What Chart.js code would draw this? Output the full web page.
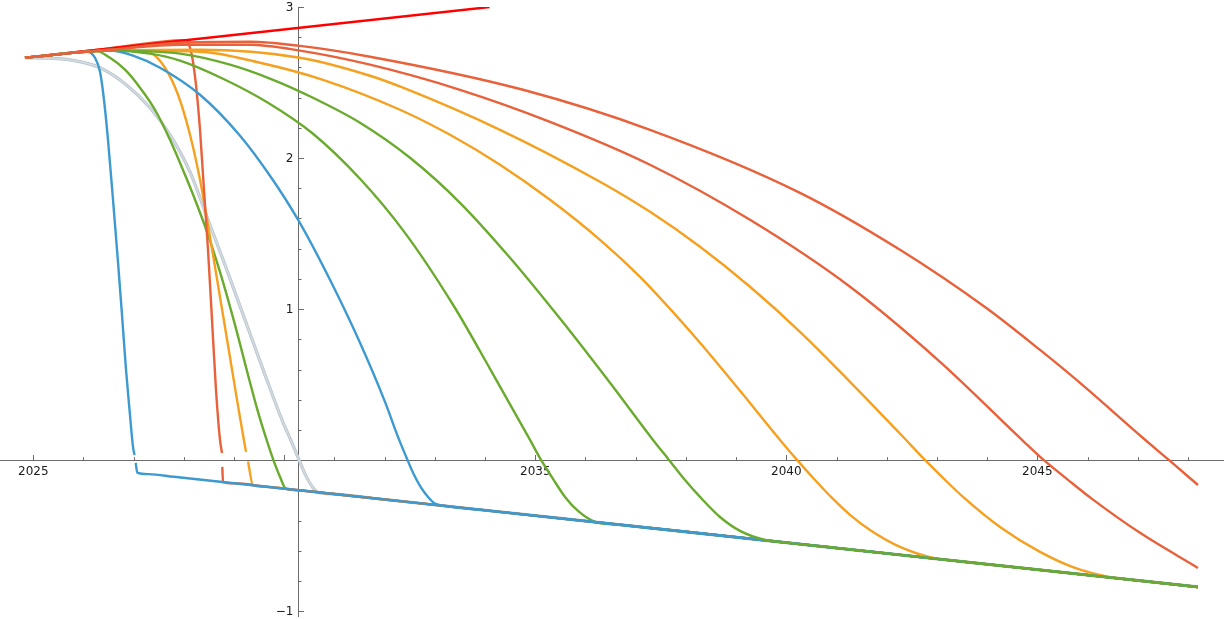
<!DOCTYPE html>
<html><head><meta charset="utf-8">
<script src="https://cdn.jsdelivr.net/npm/chart.js@4.4.1/dist/chart.umd.min.js"></script>
<style>html,body{margin:0;padding:0;background:#fff;}#wrap{width:1224px;height:619px;}</style>
</head><body><div id="wrap"><canvas id="c" width="1224" height="619"></canvas></div>
<script>
// ---- data (year, value) ----
const redLineYears = [2024.834, 2034.09];
const redLineValues = [2.664, 3.0];

const grayYears = [2024.834, 2025.333, 2025.831, 2026.329, 2026.827, 2027.325, 2027.723, 2028.122, 2028.480, 2028.819, 2029.217, 2029.616, 2029.954, 2030.153, 2030.293, 2030.432, 2030.572, 2030.671, 2031.0, 2032.0, 2038.0, 2043.0, 2048.201];
const grayValues = [2.664, 2.661, 2.644, 2.598, 2.492, 2.333, 2.154, 1.909, 1.591, 1.293, 0.929, 0.565, 0.267, 0.114, 0.002, -0.104, -0.183, -0.213, -0.224, -0.260, -0.474, -0.653, -0.839];

const blueSteepYears = [2024.834, 2025.333, 2025.831, 2026.070, 2026.229, 2026.329, 2026.408, 2026.488, 2026.588, 2026.687, 2026.767, 2026.847, 2026.926, 2026.986, 2027.016, 2027.028, 2027.040, 2027.072, 2027.3, 2027.8, 2029.0, 2033.0, 2038.0, 2043.0, 2048.201];
const blueSteepValues = [2.664, 2.681, 2.698, 2.704, 2.664, 2.571, 2.386, 2.121, 1.724, 1.313, 0.962, 0.598, 0.300, 0.088, 0.035, null, -0.018, -0.082, -0.092, -0.110, -0.153, -0.296, -0.474, -0.653, -0.839];

const redSteepYears = [2024.834, 2026.329, 2028.042, 2028.122, 2028.181, 2028.241, 2028.321, 2028.400, 2028.480, 2028.560, 2028.639, 2028.719, 2028.759, 2028.762, 2028.765, 2028.779, 2029.0, 2029.6, 2033.0, 2038.0, 2043.0, 2048.201];
const redSteepValues = [2.664, 2.719, 2.781, 2.730, 2.638, 2.485, 2.187, 1.790, 1.393, 0.929, 0.466, 0.134, 0.048, null, -0.044, -0.145, -0.153, -0.174, -0.296, -0.474, -0.653, -0.839];

const orangeSteepYears = [2024.834, 2025.333, 2025.831, 2026.329, 2026.827, 2027.325, 2027.624, 2027.883, 2028.122, 2028.321, 2028.480, 2028.679, 2028.878, 2029.058, 2029.177, 2029.237, 2029.257, 2029.277, 2029.377, 2029.6, 2030.3, 2033.0, 2038.0, 2043.0, 2048.201];
const orangeSteepValues = [2.664, 2.681, 2.698, 2.711, 2.717, 2.698, 2.598, 2.419, 2.154, 1.856, 1.558, 1.161, 0.763, 0.399, 0.168, 0.055, null, -0.009, -0.167, -0.175, -0.200, -0.296, -0.474, -0.653, -0.839];

const greenSteepYears = [2024.834, 2025.333, 2025.831, 2026.229, 2026.528, 2026.827, 2027.126, 2027.424, 2027.723, 2028.022, 2028.261, 2028.460, 2028.719, 2029.018, 2029.277, 2029.476, 2029.635, 2029.775, 2029.914, 2030.034, 2030.3, 2031.0, 2033.0, 2038.0, 2043.0, 2048.201];
const greenSteepValues = [2.664, 2.681, 2.698, 2.711, 2.664, 2.585, 2.466, 2.320, 2.121, 1.889, 1.691, 1.512, 1.247, 0.896, 0.565, 0.320, 0.148, 0.009, -0.110, -0.190, -0.200, -0.224, -0.296, -0.474, -0.653, -0.839];

const blueMidYears = [2024.834, 2025.333, 2025.831, 2026.528, 2026.986, 2027.524, 2028.321, 2029.118, 2029.715, 2030.273, 2030.910, 2031.508, 2032.006, 2032.265, 2032.444, 2032.584, 2032.703, 2032.843, 2032.982, 2033.3, 2034.0, 2038.0, 2043.0, 2048.201];
const blueMidValues = [2.664, 2.681, 2.698, 2.711, 2.678, 2.598, 2.419, 2.148, 1.883, 1.592, 1.194, 0.777, 0.386, 0.154, 0.009, -0.097, -0.170, -0.236, -0.283, -0.307, -0.332, -0.474, -0.653, -0.839];

const green1Years = [2024.834, 2025.333, 2025.831, 2026.528, 2027.325, 2027.922, 2028.779, 2029.675, 2030.572, 2031.508, 2032.404, 2033.361, 2034.098, 2034.895, 2035.114, 2035.353, 2035.592, 2035.851, 2036.189, 2036.6, 2037.5, 2041.0, 2045.0, 2048.201];
const green1Values = [2.664, 2.681, 2.698, 2.711, 2.691, 2.645, 2.525, 2.366, 2.161, 1.863, 1.505, 1.029, 0.605, 0.134, 0.002, -0.124, -0.243, -0.336, -0.408, -0.425, -0.457, -0.581, -0.724, -0.839];

const green2Years = [2024.834, 2025.333, 2025.831, 2026.528, 2027.922, 2028.918, 2029.775, 2030.572, 2031.508, 2032.504, 2033.500, 2034.496, 2035.512, 2036.488, 2037.345, 2037.663, 2037.982, 2038.281, 2038.679, 2039.078, 2039.576, 2040.0, 2041.0, 2044.0, 2048.201];
const green2Values = [2.664, 2.681, 2.698, 2.711, 2.691, 2.618, 2.518, 2.399, 2.234, 2.002, 1.704, 1.340, 0.929, 0.512, 0.134, 0.002, -0.131, -0.243, -0.376, -0.468, -0.528, -0.546, -0.581, -0.689, -0.839];

const orange1Years = [2024.834, 2025.333, 2025.831, 2026.528, 2028.321, 2029.516, 2030.771, 2032.305, 2033.301, 2034.297, 2035.293, 2036.289, 2037.086, 2037.703, 2038.281, 2039.078, 2039.875, 2040.213, 2040.572, 2040.911, 2041.269, 2041.667, 2042.265, 2042.962, 2043.4, 2044.2, 2046.0, 2048.201];
const orange1Values = [2.664, 2.681, 2.698, 2.711, 2.704, 2.631, 2.518, 2.320, 2.154, 1.956, 1.724, 1.459, 1.214, 0.995, 0.777, 0.459, 0.134, 0.002, -0.131, -0.250, -0.362, -0.462, -0.574, -0.650, -0.667, -0.696, -0.760, -0.839];

const orange2Years = [2024.834, 2025.333, 2025.831, 2026.528, 2028.321, 2030.313, 2031.707, 2032.364, 2034.297, 2036.289, 2037.285, 2038.281, 2039.277, 2040.273, 2041.269, 2042.325, 2042.723, 2043.122, 2043.520, 2044.257, 2045.054, 2045.751, 2046.448, 2046.8, 2047.5, 2048.201];
const orange2Values = [2.664, 2.681, 2.698, 2.711, 2.717, 2.664, 2.545, 2.466, 2.187, 1.843, 1.644, 1.413, 1.148, 0.850, 0.519, 0.155, 0.015, -0.117, -0.243, -0.442, -0.607, -0.713, -0.774, -0.789, -0.814, -0.839];

const red1Years = [2024.834, 2025.333, 2025.831, 2026.528, 2027.922, 2029.317, 2030.313, 2031.707, 2033.500, 2035.293, 2037.285, 2039.277, 2041.269, 2043.062, 2044.715, 2045.114, 2045.612, 2046.090, 2047.046, 2048.201];
const red1Values = [2.664, 2.681, 2.698, 2.717, 2.750, 2.750, 2.711, 2.618, 2.452, 2.240, 1.956, 1.591, 1.148, 0.651, 0.128, 0.005, -0.130, -0.256, -0.481, -0.713];

const red2Years = [2024.834, 2025.333, 2025.831, 2026.528, 2027.922, 2029.317, 2030.273, 2031.707, 2034.755, 2037.285, 2040.273, 2042.265, 2043.978, 2045.054, 2045.851, 2047.106, 2047.643, 2048.201];
const red2Values = [2.664, 2.681, 2.698, 2.717, 2.763, 2.770, 2.744, 2.671, 2.452, 2.187, 1.770, 1.393, 1.009, 0.730, 0.512, 0.147, -0.005, -0.164];

// ---- ticks ----
const xMajorTicks = [2025, 2030, 2035, 2040, 2045];
const xTickLabels = ['2025', '', '2035', '2040', '2045'];
const xMinorTicks = [2026, 2027, 2028, 2029, 2031, 2032, 2033, 2034, 2036, 2037, 2038, 2039, 2041, 2042, 2043, 2044, 2046, 2047, 2048];
const yMajorTicks = [-1, 1, 2, 3];
const yTickLabels = ['\u22121', '1', '2', '3'];
const yMinorTicks = [-0.8, -0.6, -0.4, -0.2, 0.2, 0.4, 0.6, 0.8, 1.2, 1.4, 1.6, 1.8, 2.2, 2.4, 2.6, 2.8];
const yAxisCrossYear = 2030.279;

// ---- colours ----
const BLUE = '#3d9ad1', ORANGE = '#f5a01f', GREEN = '#6aab2e', REDORANGE = '#e8613a', RED = '#ff0000';
const AXIS = '#6b6b6b';

function pts(xs, ys) { return xs.map((x, i) => ({x: x, y: ys[i]})); }

// bottom-first drawing order
const layers = [
  {d: pts(grayYears, grayValues), c: '#b9c4cc', w: 3.2},
  {d: pts(grayYears, grayValues), c: '#d3dbe1', w: 1.6},
  {d: pts(greenSteepYears, greenSteepValues), c: GREEN, w: 2.4},
  {d: pts(orangeSteepYears, orangeSteepValues), c: ORANGE, w: 2.4},
  {d: pts(redSteepYears, redSteepValues), c: REDORANGE, w: 2.4},
  {d: pts(redLineYears, redLineValues), c: RED, w: 2.4},
  {d: pts(green1Years, green1Values), c: GREEN, w: 2.4},
  {d: pts(orange1Years, orange1Values), c: ORANGE, w: 2.4},
  {d: pts(orange2Years, orange2Values), c: ORANGE, w: 2.4},
  {d: pts(blueSteepYears, blueSteepValues), c: BLUE, w: 2.4},
  {d: pts(blueMidYears, blueMidValues), c: BLUE, w: 2.4},
  {d: pts(green2Years, green2Values), c: GREEN, w: 2.4},
  {d: pts(red1Years, red1Values), c: REDORANGE, w: 2.4},
  {d: pts(red2Years, red2Values), c: REDORANGE, w: 2.4}
];
const datasets = layers.map((l, i) => ({
  data: l.d, borderColor: l.c, borderWidth: l.w, showLine: true, pointRadius: 0,
  cubicInterpolationMode: 'monotone', spanGaps: false, fill: false,
  borderCapStyle: 'butt', borderJoinStyle: 'round', order: layers.length - i
}));

const axesPlugin = {
  id: 'mathAxes',
  beforeDatasetsDraw(chart) {
    const ctx = chart.ctx, xs = chart.scales.x, ys = chart.scales.y, ca = chart.chartArea;
    const x0 = Math.round(xs.getPixelForValue(yAxisCrossYear)) + 0.5;
    const y0 = Math.round(ys.getPixelForValue(0)) + 0.5;
    ctx.save();
    ctx.strokeStyle = AXIS; ctx.lineWidth = 1;
    ctx.beginPath();
    ctx.moveTo(0, y0); ctx.lineTo(chart.width, y0);
    ctx.moveTo(x0, ca.top); ctx.lineTo(x0, ca.bottom);
    xMajorTicks.forEach(v => { const p = Math.round(xs.getPixelForValue(v)) + 0.5; ctx.moveTo(p, y0); ctx.lineTo(p, y0 - 5.5); });
    xMinorTicks.forEach(v => { const p = Math.round(xs.getPixelForValue(v)) + 0.5; ctx.moveTo(p, y0); ctx.lineTo(p, y0 - 3.3); });
    yMajorTicks.forEach(v => { const p = Math.round(ys.getPixelForValue(v)) + 0.5; ctx.moveTo(x0, p); ctx.lineTo(x0 + 5.5, p); });
    yMinorTicks.forEach(v => { const p = Math.round(ys.getPixelForValue(v)) + 0.5; ctx.moveTo(x0, p); ctx.lineTo(x0 + 3, p); });
    ctx.stroke();
    ctx.fillStyle = '#1a1a1a';
    ctx.font = '12px "DejaVu Sans", sans-serif';
    ctx.textAlign = 'center'; ctx.textBaseline = 'middle';
    xMajorTicks.forEach((v, i) => { if (xTickLabels[i]) ctx.fillText(xTickLabels[i], xs.getPixelForValue(v), y0 + 11); });
    ctx.textAlign = 'right';
    yMajorTicks.forEach((v, i) => { ctx.fillText(yTickLabels[i], x0 - 5, ys.getPixelForValue(v) + 0.5); });
    ctx.restore();
  }
};

new Chart(document.getElementById('c'), {
  type: 'scatter',
  data: {datasets: datasets},
  options: {
    responsive: false, animation: false, devicePixelRatio: 1,
    layout: {padding: {top: 7, bottom: 2, left: 0, right: 0}},
    plugins: {legend: {display: false}, tooltip: {enabled: false}},
    scales: {
      x: {type: 'linear', min: 2024.3367, max: 2048.7191, display: false},
      y: {type: 'linear', min: -1.038, max: 3.0, display: false}
    }
  },
  plugins: [axesPlugin]
});
</script>
</body></html>
